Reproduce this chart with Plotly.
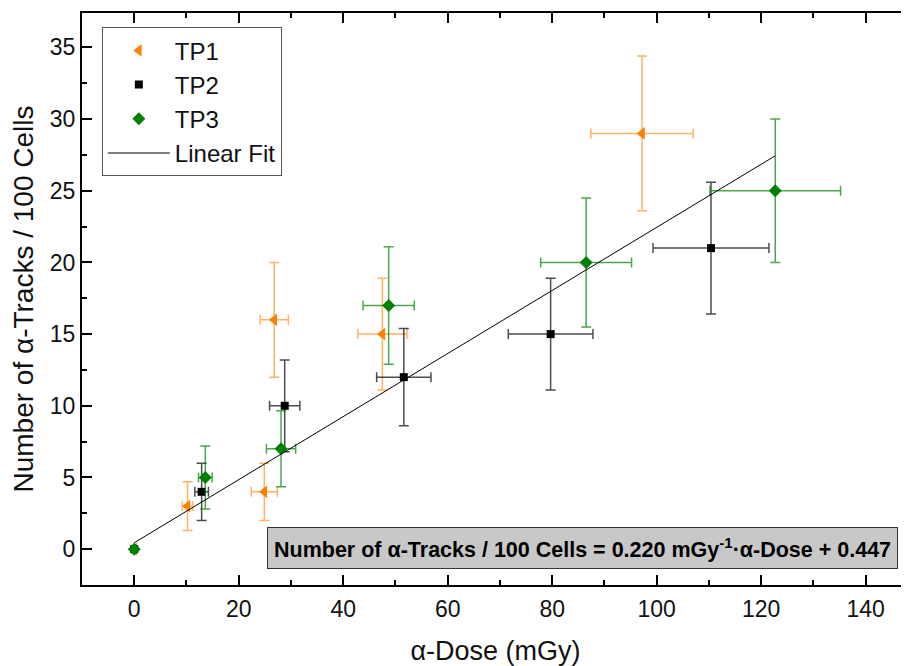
import plotly.graph_objects as go

# TP1
tp1_x = [0, 10.2, 24.9, 26.8, 47.5, 97.2]
tp1_y = [0, 3, 4, 16, 15, 29]
tp1_xerr = [0, 1.0, 2.5, 2.7, 4.7, 9.8]
tp1_yerr = [0, 1.7, 2.0, 4.0, 3.9, 5.4]
# TP2
tp2_x = [0, 12.9, 28.8, 51.6, 79.7, 110.4]
tp2_y = [0, 4, 10, 12, 15, 21]
tp2_xerr = [0, 1.3, 2.9, 5.2, 8.1, 11.1]
tp2_yerr = [0, 2.0, 3.2, 3.4, 3.9, 4.6]
# TP3
tp3_x = [0, 13.6, 28.1, 48.7, 86.5, 122.7]
tp3_y = [0, 5, 7, 17, 20, 25]
tp3_xerr = [0, 1.3, 2.8, 4.9, 8.7, 12.5]
tp3_yerr = [0, 2.2, 2.65, 4.1, 4.5, 5.0]
# Linear fit
fit_slope = 0.220
fit_intercept = 0.447
fit_x = [0, 122.7]
fit_y = [fit_slope * v + fit_intercept for v in fit_x]

FONT = "Liberation Sans, Arial, sans-serif"

def series(name, x, y, xe, ye, color, barcolor, symbol, size):
    return go.Scatter(
        x=x, y=y, name=name, mode="markers",
        marker=dict(symbol=symbol, color=color, size=size, line=dict(width=0)),
        error_x=dict(type="data", array=xe, color=barcolor, thickness=1.5, width=5),
        error_y=dict(type="data", array=ye, color=barcolor, thickness=1.5, width=5),
    )

fig = go.Figure()
fig.add_trace(series("TP1", tp1_x, tp1_y, tp1_xerr, tp1_yerr, "#FF8000", "rgba(255,128,0,0.6)", "triangle-left", 11))
fig.add_trace(series("TP2", tp2_x, tp2_y, tp2_xerr, tp2_yerr, "#000000", "rgba(0,0,0,0.7)", "square", 8))
fig.add_trace(series("TP3", tp3_x, tp3_y, tp3_xerr, tp3_yerr, "#008000", "rgba(0,128,0,0.7)", "diamond", 10))
fig.add_trace(go.Scatter(x=fit_x, y=fit_y, name="Linear Fit", mode="lines",
                         line=dict(color="#000000", width=1)))

fig.update_layout(
    width=901, height=658, autosize=False,
    margin=dict(l=74, r=0, t=5, b=81, autoexpand=False),
    paper_bgcolor="white", plot_bgcolor="white",
    font=dict(family=FONT, color="#111111", size=23),
    showlegend=True,
    legend=dict(x=0.024, y=0.975, xanchor="left", yanchor="top",
                bordercolor="#555555", borderwidth=1, bgcolor="white",
                font=dict(size=24, family=FONT), tracegroupgap=0, itemwidth=62),
    xaxis=dict(
        range=[-10, 148.3], tickvals=[0, 20, 40, 60, 80, 100, 120, 140],
        showline=True, linecolor="black", linewidth=2, mirror="ticks",
        ticks="inside", ticklen=10, tickwidth=2, tickcolor="black",
        minor=dict(dtick=10, ticks="inside", ticklen=5, tickwidth=2, tickcolor="black"),
        showgrid=False, zeroline=False, automargin=False, ticklabelstandoff=2,
        tickfont=dict(size=23, family=FONT, color="#111111"),
        title=dict(text="α-Dose (mGy)", font=dict(size=27, family=FONT), standoff=22),
    ),
    yaxis=dict(
        range=[-2.5, 37.4], tickvals=[0, 5, 10, 15, 20, 25, 30, 35],
        showline=True, linecolor="black", linewidth=2,
        ticks="inside", ticklen=10, tickwidth=2, tickcolor="black",
        minor=dict(dtick=2.5, ticks="inside", ticklen=5, tickwidth=2, tickcolor="black"),
        showgrid=False, zeroline=False, automargin=False,
        tickfont=dict(size=23, family=FONT, color="#111111"),
        title=dict(text="Number of α-Tracks / 100 Cells", font=dict(size=28, family=FONT), standoff=16),
    ),
)

fig.add_annotation(
    x=146.2, y=0.1, xref="x", yref="y", xanchor="right", yanchor="middle",
    text="<b>Number of α-Tracks / 100 Cells = 0.220 mGy<sup>-1</sup>·α-Dose + 0.447</b>",
    showarrow=False, font=dict(size=21.5, family=FONT, color="black"),
    bgcolor="#C8C8C8", bordercolor="#333333", borderwidth=1, borderpad=6,
)

fig.write_html("out.html")
